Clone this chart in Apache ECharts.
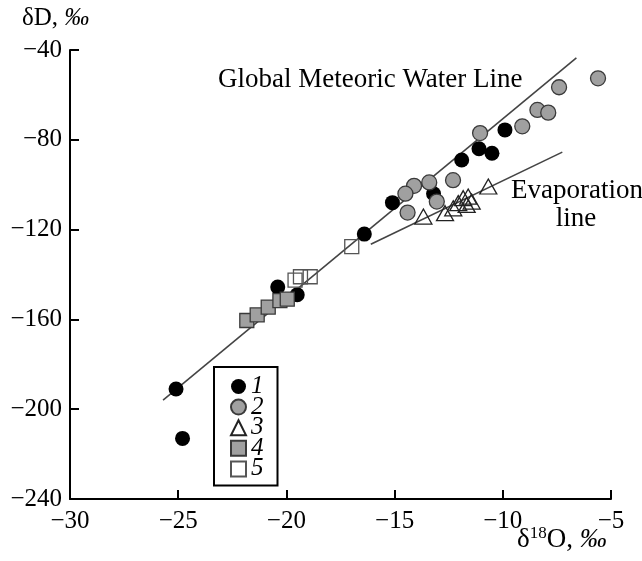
<!DOCTYPE html>
<html>
<head>
<meta charset="utf-8">
<script src="https://cdn.jsdelivr.net/npm/echarts@6/dist/echarts.min.js"></script>
<style>
html,body{margin:0;padding:0;background:#fff;}
#chart{width:642px;height:561px;}
</style>
</head>
<body>
<div id="chart"></div>
<script>
// ---- data ----
var xTicks = [-30, -25, -20, -15, -10, -5];
var yTicks = [-240, -200, -160, -120, -80, -40];

var group1 = [[-25.1,-191],[-24.8,-213],[-20.4,-145.6],[-19.5,-149],[-16.4,-122],[-15.1,-108],
              [-13.2,-104],[-11.9,-89],[-11.1,-84],[-10.5,-86],[-9.9,-75.6]];
var group2 = [[-5.6,-52.6],[-7.4,-56.6],[-8.4,-66.7],[-7.9,-67.9],[-9.1,-74],[-11.05,-77],
              [-12.3,-98],[-13.4,-99],[-14.1,-100.5],[-14.5,-104],[-13.05,-107.5],[-14.4,-112.4]];
var group3 = [[-13.67,-114.2],[-12.67,-112.7],[-12.29,-110.5],[-12.06,-108.2],[-11.83,-106],
              [-11.6,-105.3],[-11.44,-107.5],[-11.67,-109],[-10.67,-100.8]];
var group4 = [[-21.83,-160.5],[-21.35,-158],[-20.84,-154.5],[-20.3,-151.6],[-19.96,-151]];
var group5 = [[-19.6,-142.5],[-19.35,-141],[-18.9,-141],[-16.98,-127.6]];

var gmwlLine = [[-25.7,-196],[-6.6,-43.5]];
var evapLine = [[-16.1,-126.5],[-7.25,-85.5]];

var groupNames = ['1','2','3','4','5'];

// ---- chart ----
var FONT = '"Liberation Serif","Times New Roman",serif';
var chart = echarts.init(document.getElementById('chart'), null, {renderer:'canvas'});
function fmt(v){ return String(v).replace('-', '\u2212'); }

var option = {
  backgroundColor: '#fff',
  animation: false,
  grid: {left: 70, right: 31, top: 50, bottom: 62},
  xAxis: {
    type: 'value', min: xTicks[0], max: xTicks[xTicks.length-1], interval: 5,
    axisLine: {show: true, onZero: false, lineStyle: {color: '#000', width: 2}},
    axisTick: {show: true, inside: true, length: 9, lineStyle: {color: '#000', width: 2}},
    axisLabel: {formatter: fmt, fontFamily: FONT, fontSize: 25, color: '#000', margin: 10},
    splitLine: {show: false}
  },
  yAxis: {
    type: 'value', min: yTicks[0], max: yTicks[yTicks.length-1], interval: 40,
    axisLine: {show: true, onZero: false, lineStyle: {color: '#000', width: 2}},
    axisTick: {show: true, inside: true, length: 9, lineStyle: {color: '#000', width: 2}},
    axisLabel: {formatter: fmt, fontFamily: FONT, fontSize: 25, color: '#000', margin: 8},
    splitLine: {show: false}
  },
  legend: {
    data: groupNames,
    orient: 'vertical',
    left: 214, top: 367,
    padding: [7, 14, 4, 16],
    itemGap: -4.4,
    itemWidth: 15, itemHeight: 15,
    borderColor: '#000', borderWidth: 2, borderRadius: 0,
    textStyle: {fontFamily: FONT, fontSize: 25, fontStyle: 'italic', color: '#000'},
    selectedMode: false
  },
  graphic: [
    {type: 'text', left: 22, top: 6, style: {
      text: '{n|δD, }{i|‰}',
      rich: {n: {fontFamily: FONT, fontSize: 25, fill: '#000'},
             i: {fontFamily: FONT, fontSize: 25, fontStyle: 'italic', fill: '#000'}}
    }},
    {type: 'text', style: {x: 218, y: 80, text: 'Global Meteoric Water Line',
      font: '27px ' + FONT, fill: '#000', align: 'left', verticalAlign: 'middle'}},
    {type: 'text', style: {x: 577, y: 191, text: 'Evaporation',
      font: '27px ' + FONT, fill: '#000', align: 'center', verticalAlign: 'middle'}},
    {type: 'text', style: {x: 576, y: 219, text: 'line',
      font: '27px ' + FONT, fill: '#000', align: 'center', verticalAlign: 'middle'}},
    {type: 'text', left: 517, top: 525, style: {
      text: '{n|δ}{s|18}{n|O, }{i|‰}',
      rich: {n: {fontFamily: FONT, fontSize: 27, fill: '#000', verticalAlign: 'bottom'},
             s: {fontFamily: FONT, fontSize: 17, fill: '#000', verticalAlign: 'top', padding: [0,0,11,0]},
             i: {fontFamily: FONT, fontSize: 27, fontStyle: 'italic', fill: '#000', verticalAlign: 'bottom'}}
    }}
  ],
  series: [
    {name: 'GMWL', type: 'line', data: gmwlLine, symbol: 'none', z: 1,
     lineStyle: {color: '#444', width: 1.6}, silent: true},
    {name: 'Evap', type: 'line', data: evapLine, symbol: 'none', z: 1,
     lineStyle: {color: '#444', width: 1.6}, silent: true},
    {name: '1', type: 'scatter', data: group1, symbol: 'circle', symbolSize: 15, z: 3,
     itemStyle: {color: '#000', borderColor: '#000', borderWidth: 0, opacity: 1}},
    {name: '2', type: 'scatter', data: group2, symbol: 'circle', symbolSize: 15, z: 3,
     itemStyle: {color: '#a0a0a0', borderColor: '#3a3a3a', borderWidth: 1.3, opacity: 1}},
    {name: '3', type: 'scatter', data: group3, symbol: 'triangle', symbolSize: [17, 15], z: 3,
     itemStyle: {color: 'rgba(255,255,255,0)', borderColor: '#222', borderWidth: 1.3, opacity: 1}},
    {name: '4', type: 'scatter', data: group4, symbol: 'rect', symbolSize: 14, z: 3,
     itemStyle: {color: '#a0a0a0', borderColor: '#3a3a3a', borderWidth: 1.3, opacity: 1}},
    {name: '5', type: 'scatter', data: group5, symbol: 'rect', symbolSize: 14, z: 3,
     itemStyle: {color: 'rgba(255,255,255,0)', borderColor: '#555', borderWidth: 1.3, opacity: 1}}
  ]
};
chart.setOption(option);
</script>
</body>
</html>
